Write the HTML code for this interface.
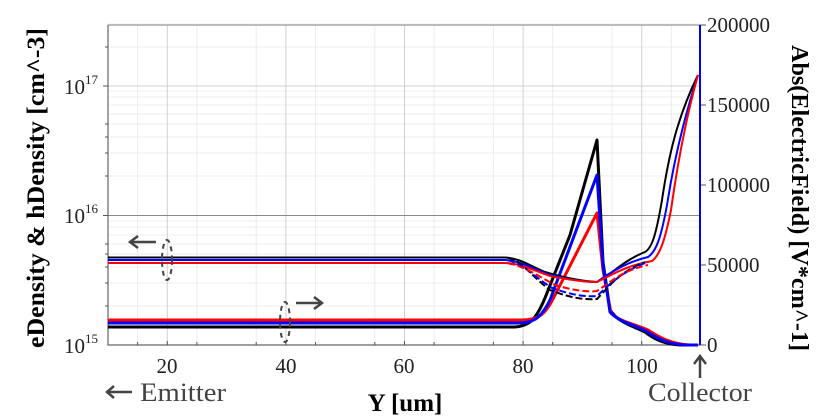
<!DOCTYPE html>
<html><head><meta charset="utf-8"><style>
body{margin:0;background:#fff}
svg{display:block}
text{font-family:"Liberation Serif",serif}
</style></head><body>
<svg width="836" height="418" viewBox="0 0 836 418" xmlns="http://www.w3.org/2000/svg">
<rect width="836" height="418" fill="#fff"/>
<g stroke="#ececec" stroke-width="1">
<path d="M137.6 25V345M196.9 25V345M256.2 25V345M315.5 25V345M374.8 25V345M434.1 25V345M493.4 25V345M552.7 25V345M612 25V345M671.3 25V345"/>
<path d="M108 306H700M108 283H700M108 267H700M108 254H700M108 244H700M108 235H700M108 227H700M108 221H700M108 176H700M108 153H700M108 137H700M108 124H700M108 114H700M108 105H700M108 97H700M108 91H700M108 47H700M108 24H700"/>
</g>
<g stroke="#d0d0d0" stroke-width="1">
<path d="M167.3 25V345M285.9 25V345M404.5 25V345M523.1 25V345M641.7 25V345"/>
<path d="M108 86H700"/>
</g>
<path d="M108 215.5H700" stroke="#888" stroke-width="1"/>
<path d="M108 25H700" stroke="#aaa" stroke-width="1.5"/>
<path d="M108 25V345H700" stroke="#666" stroke-width="1.2" fill="none"/>
<g stroke="#555" stroke-width="1">
<path d="M103 86H108M103 215.5H108M105 306H108M105 283H108M105 267H108M105 254H108M105 244H108M105 176H108M105 153H108M105 137H108M105 124H108M105 47H108"/>
<path d="M167.3 345V341M285.9 345V341M404.5 345V341M523.1 345V341M641.7 345V341M137.6 345V342M196.9 345V342M256.2 345V342M315.5 345V342M374.8 345V342M434.1 345V342M493.4 345V342M552.7 345V342M612 345V342M671.3 345V342"/>
<path d="M700 25H706M700 105H706M700 185H706M700 265H706M700 345H706"/>
</g>
<g fill="none" stroke-width="3" stroke-linejoin="round">
<path stroke="#000" d="M108 327H515C528 326 535 322 545 298L570 235L597 140L603 262L610 310C618 322 630 325 645 332C655 340 665 344 680 345H698"/>
<path stroke="#ff0000" d="M108 320H520C538 320 545 316 555 295L597 213L603 270L611 313C620 322 635 324 648 330C660 338 672 344 690 345H698"/>
<path stroke="#0000ff" d="M108 323H518C532 323 540 320 550 300L597 175L603 265L610 312C619 322 632 324 646 331C658 339 668 344 685 345H698"/>
</g>
<g fill="none" stroke-width="2" stroke-linejoin="round">
<path stroke="#000" d="M108 257.5H505C520 258 530 266 545 272C565 278 580 281 597 282L607 276C620 266 630 258 645 252C652 248 656 235 662 200C668 160 676 120 698 75"/>
<path stroke="#0000ff" d="M108 260H505C520 261 532 268 547 274C567 279 582 282 597 282L607 275C622 266 632 261 648 257C656 252 661 238 667 205C674 160 684 118 698 75"/>
<path stroke="#ff0000" d="M108 263H505C520 263 532 270 550 276C570 280 585 282 597 282L607 277C624 268 636 264 652 261C660 255 665 240 671 210C678 160 686 118 698 75"/>
</g>
<g fill="none" stroke-width="2" stroke-dasharray="7,3">
<path stroke="#000" d="M108 257.5H505C520 258 530 275 550 290C570 298 585 300 597 299L610 285C620 275 630 268 645 262"/>
<path stroke="#0000ff" d="M108 260H505C520 261 532 275 552 288C572 295 585 297 597 296L610 284C622 274 632 268 645 263"/>
<path stroke="#ff0000" d="M108 263H505C520 264 535 274 555 285C575 291 588 292 597 291L610 282C622 273 634 268 648 265"/>
</g>
<path d="M700 25V345" stroke="#0000ff" stroke-width="2"/>
<g stroke="#444" stroke-width="2" fill="none" stroke-dasharray="5,4">
<ellipse cx="167" cy="260" rx="5" ry="20"/>
<ellipse cx="285" cy="322" rx="5" ry="20"/>
</g>
<g stroke="#444" stroke-width="2.5" fill="none">
<path d="M156 242H130M138 236L130 242L138 248"/>
<path d="M296 303H322M314 297L322 303L314 309"/>
<path d="M107 392H132M114 386L107 392L114 398"/>
<path d="M700 378V356M694 364L700 356L706 364"/>
</g>
<g font-size="21" fill="#222">
<text x="167" y="373" text-anchor="middle">20</text>
<text x="286" y="373" text-anchor="middle">40</text>
<text x="404" y="373" text-anchor="middle">60</text>
<text x="523" y="373" text-anchor="middle">80</text>
<text x="642" y="373" text-anchor="middle">100</text>
<text x="64" y="353">10<tspan font-size="13" dy="-10">15</tspan></text>
<text x="64" y="223">10<tspan font-size="13" dy="-10">16</tspan></text>
<text x="64" y="94">10<tspan font-size="13" dy="-10">17</tspan></text>
<text x="707" y="32">200000</text>
<text x="707" y="112">150000</text>
<text x="707" y="192">100000</text>
<text x="707" y="272">50000</text>
<text x="707" y="352">0</text>
</g>
<text x="140" y="401" font-size="26" fill="#444" textLength="86" lengthAdjust="spacingAndGlyphs">Emitter</text>
<text x="648" y="401" font-size="26" fill="#444" textLength="104" lengthAdjust="spacingAndGlyphs">Collector</text>
<text x="405" y="411" font-size="25" font-weight="bold" text-anchor="middle">Y [um]</text>
<text transform="translate(44,188) rotate(-90)" font-size="25" font-weight="bold" text-anchor="middle" textLength="320" lengthAdjust="spacingAndGlyphs">eDensity &amp; hDensity [cm^-3]</text>
<text transform="translate(792,198) rotate(90)" font-size="24" font-weight="bold" text-anchor="middle" textLength="306" lengthAdjust="spacingAndGlyphs">Abs(ElectricField) [V*cm^-1]</text>
</svg>
</body></html>
